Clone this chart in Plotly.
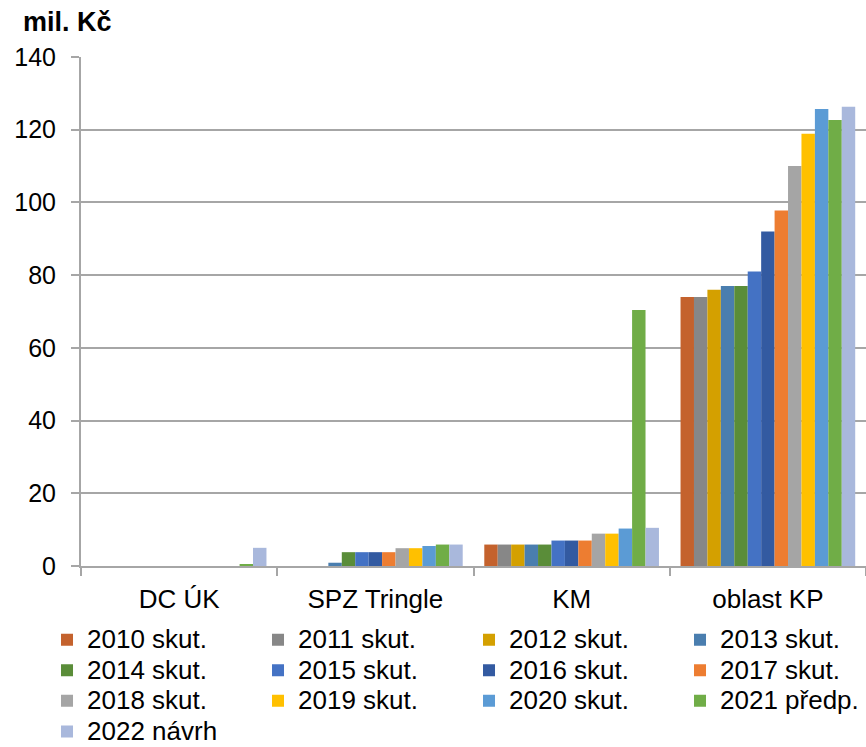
import plotly.graph_objects as go

categories = ["DC ÚK", "SPZ Tringle", "KM", "oblast KP"]

series_names = ["2010 skut.", "2011 skut.", "2012 skut.", "2013 skut.", "2014 skut.",
                "2015 skut.", "2016 skut.", "2017 skut.", "2018 skut.", "2019 skut.",
                "2020 skut.", "2021 předp.", "2022 návrh"]

v2010 = [0, 0, 5.9, 74]
v2011 = [0, 0, 5.9, 74]
v2012 = [0, 0, 5.9, 76]
v2013 = [0, 0.9, 5.9, 77]
v2014 = [0, 3.8, 5.9, 77]
v2015 = [0, 3.8, 7.0, 81]
v2016 = [0, 3.8, 7.0, 92]
v2017 = [0, 3.8, 7.0, 97.8]
v2018 = [0, 4.9, 8.9, 110]
v2019 = [0, 4.9, 8.9, 118.9]
v2020 = [0, 5.5, 10.3, 125.7]
v2021 = [0.4, 5.9, 70.4, 122.7]
v2022 = [5.0, 5.9, 10.5, 126.3]

values = [v2010, v2011, v2012, v2013, v2014, v2015, v2016, v2017,
          v2018, v2019, v2020, v2021, v2022]

colors = ["#C4622D", "#878787", "#D4A000", "#4A7EAF", "#5A8D39", "#4472C4",
          "#335AA1", "#ED7D31", "#A5A5A5", "#FFC000", "#5B9BD5", "#70AD47", "#A9B8DC"]

FONT = "Liberation Sans, Arial, sans-serif"
GRID = "#A6A6A6"

fig = go.Figure()
for name, vals, col in zip(series_names, values, colors):
    fig.add_trace(go.Bar(x=categories, y=vals,
                         name='<span style="font-size:26px">' + name + '</span>',
                         marker_color=col, marker_line_width=0))

fig.update_layout(
    width=866, height=747,
    barmode="group", bargap=0.11, bargroupgap=0,
    plot_bgcolor="white", paper_bgcolor="white",
    margin=dict(l=81, r=0, t=57, b=181, autoexpand=False),
    font=dict(family=FONT, size=24, color="#000000"),
    title=dict(text="<b>mil. Kč</b>", x=23/866, xanchor="left", xref="container",
               y=1 - 22/747, yanchor="middle", yref="container",
               font=dict(family=FONT, size=27, color="#000000")),
    legend=dict(orientation="h", x=-0.0433, xanchor="left", y=-0.105, yanchor="top",
                entrywidth=166, entrywidthmode="pixels",
                font=dict(family=FONT, size=21.2, color="#000000"),
                traceorder="normal", itemwidth=30),
    xaxis=dict(type="category", range=[-0.5, 3.5], showline=True, linecolor=GRID,
               linewidth=2, ticks="outside", tickson="boundaries", ticklen=8,
               tickcolor=GRID, tickwidth=2, showgrid=False, ticklabelstandoff=9,
               tickfont=dict(family=FONT, size=26, color="#000000")),
    yaxis=dict(range=[0, 140], dtick=20, showline=True, linecolor=GRID, linewidth=2,
               ticks="outside", ticklen=8, tickcolor=GRID, tickwidth=2,
               showgrid=True, gridcolor=GRID, gridwidth=2, zeroline=False,
               ticklabelstandoff=10,
               tickfont=dict(family=FONT, size=25, color="#000000")),
)

fig.write_html("out.html", config={"displayModeBar": False},
               post_script="document.body.style.margin='0';document.body.style.overflow='hidden';")
